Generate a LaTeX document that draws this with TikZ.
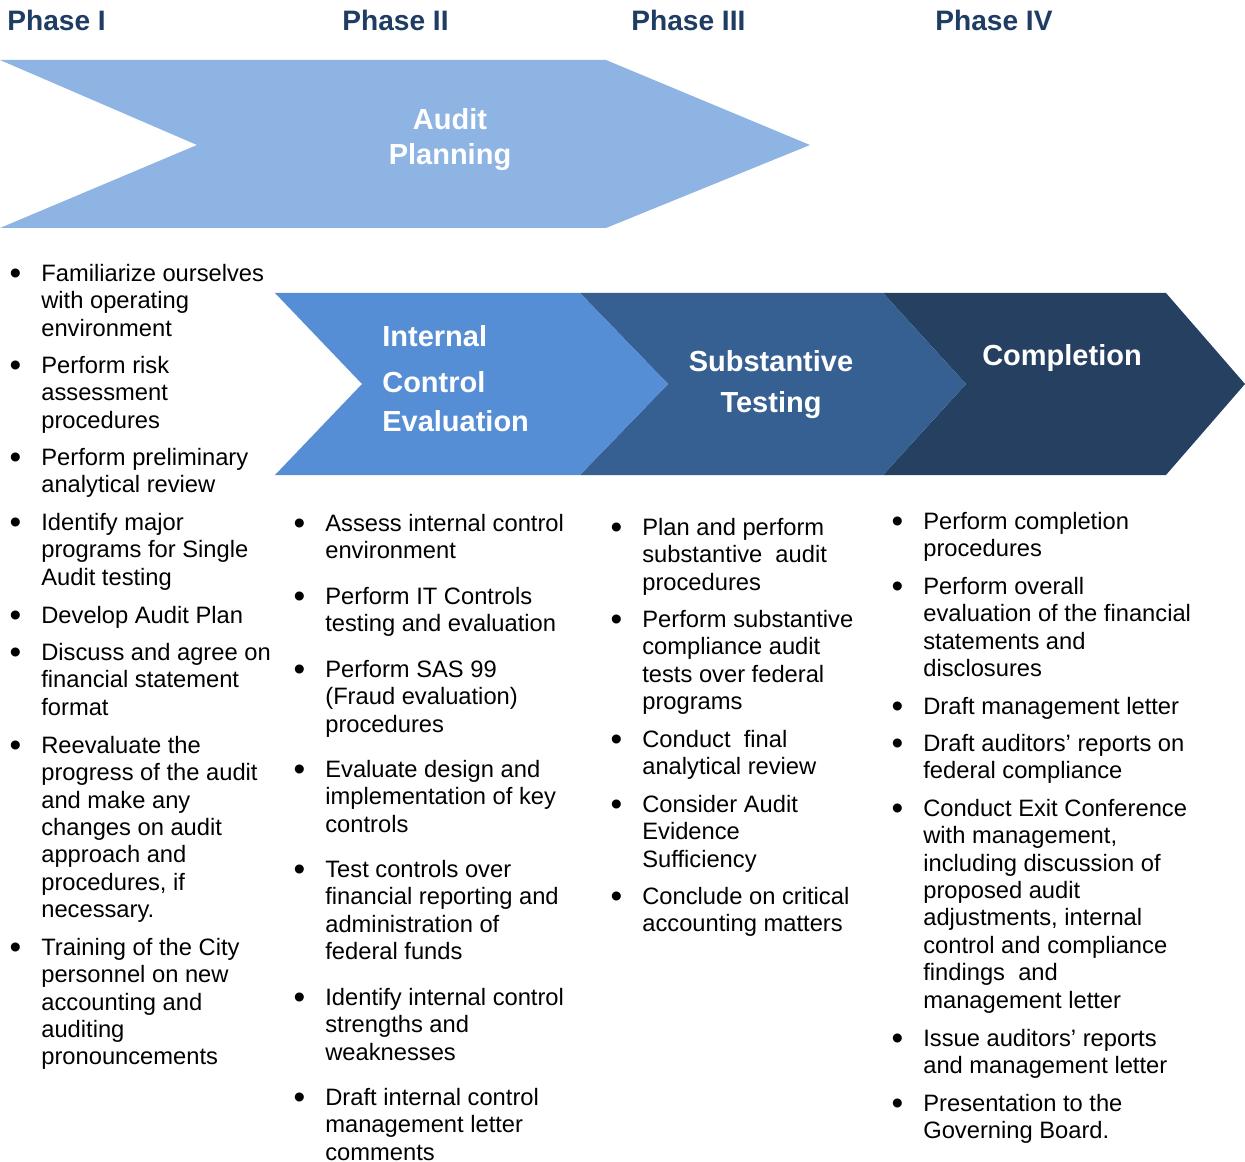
\documentclass[tikz,border=0pt]{standalone}
\usepackage{fontspec}
\setmainfont{Liberation Sans}
\usepackage{xcolor}
\usepackage{graphicx}
\usepackage{tikz}
\usetikzlibrary{positioning}

\definecolor{hdrblue}{HTML}{1F3D63}
\definecolor{planblue}{HTML}{8EB4E3}
\definecolor{iceblue}{HTML}{558ED5}
\definecolor{subblue}{HTML}{376092}
\definecolor{compblue}{HTML}{254061}

% bullet left of the first line, strut fixes the top of the node
\newcommand{\bul}{\rule{0pt}{10.5pt}\llap{\raisebox{-2pt}{\scalebox{1.4}{\textbullet}}\hspace{11.4pt}}}

\begin{document}
\begin{tikzpicture}[
  x=0.02cm, y=-0.02cm,
  phase/.style={anchor=base west, inner sep=0pt, text=hdrblue,
               font=\fontsize{16}{19}\selectfont\bfseries},
  chevtext/.style={inner sep=0pt, text=white,
               font=\fontsize{16.5}{19.8}\selectfont\bfseries},
  item/.style={anchor=north west, align=left, inner sep=0pt,
               yshift=10.5pt, font=\fontsize{13.5}{15.6}\selectfont}
]
\useasboundingbox (0,0) rectangle (1245,1162);

% phase headers
\node[phase] (ph1) at (7,31) {Phase I};
\node[phase] (ph2) at (342,31) {Phase II};
\node[phase] (ph3) at (631,31) {Phase III};
\node[phase] (ph4) at (935,31) {Phase IV};

% chevrons
\fill[planblue] (0,60) -- (606,60) -- (810,145) -- (606,228) -- (0,228) -- (197,145) -- cycle;
\fill[compblue] (883,293) -- (1166,293) -- (1245,384) -- (1166,475) -- (883,475) -- (966,384) -- cycle;
\fill[subblue] (580,293) -- (883,293) -- (966,384) -- (883,475) -- (580,475) -- (668,384) -- cycle;
\fill[iceblue] (275,293) -- (580,293) -- (668,384) -- (580,475) -- (275,475) -- (362,384) -- cycle;

\node[chevtext, anchor=base] (plan1) at (450,130) {Audit};
\node[chevtext, anchor=base] (plan2) at (450,165) {Planning};
\node[chevtext, anchor=base west] (ice1) at (382,347) {Internal};
\node[chevtext, anchor=base west] (ice2) at (382,393) {Control};
\node[chevtext, anchor=base west] (ice3) at (382,432) {Evaluation};
\node[chevtext, anchor=base] (sub1) at (771,372) {Substantive};
\node[chevtext, anchor=base] (sub2) at (771,413) {Testing};
\node[chevtext, anchor=base] (comp) at (1062,366) {Completion};

% Phase I
\node[item] (p1a) at (41,281) {\bul Familiarize ourselves\\with operating\\environment};
\node[item] (p1b) at (41,373) {\bul Perform risk\\assessment\\procedures};
\node[item] (p1c) at (41,465) {\bul Perform preliminary\\analytical review};
\node[item] (p1d) at (41,530) {\bul Identify major\\programs for Single\\Audit testing};
\node[item] (p1e) at (41,623) {\bul Develop Audit Plan};
\node[item] (p1f) at (41,660) {\bul Discuss and agree on\\financial statement\\format};
\node[item] (p1g) at (41,753) {\bul Reevaluate the\\progress of the audit\\and make any\\changes on audit\\approach and\\procedures, if\\necessary.};
\node[item] (p1h) at (41,955) {\bul Training of the City\\personnel on new\\accounting and\\auditing\\pronouncements};

% Phase II
\node[item] (p2a) at (325,531) {\bul Assess internal control\\environment};
\node[item] (p2b) at (325,604) {\bul Perform IT Controls\\testing and evaluation};
\node[item] (p2c) at (325,677) {\bul Perform SAS 99\\(Fraud evaluation)\\procedures};
\node[item] (p2d) at (325,777) {\bul Evaluate design and\\implementation of key\\controls};
\node[item] (p2e) at (325,877) {\bul Test controls over\\financial reporting and\\administration of\\federal funds};
\node[item] (p2f) at (325,1005) {\bul Identify internal control\\strengths and\\weaknesses};
\node[item] (p2g) at (325,1105) {\bul Draft internal control\\management letter\\comments};

% Phase III
\node[item] (p3a) at (642,535) {\bul Plan and perform\\substantive\ \ audit\\procedures};
\node[item] (p3b) at (642,627) {\bul Perform substantive\\compliance audit\\tests over federal\\programs};
\node[item] (p3c) at (642,747) {\bul Conduct\ \ final\\analytical review};
\node[item] (p3d) at (642,812) {\bul Consider Audit\\Evidence\\Sufficiency};
\node[item] (p3e) at (642,904) {\bul Conclude on critical\\accounting matters};

% Phase IV
\node[item] (p4a) at (923,529) {\bul Perform completion\\procedures};
\node[item] (p4b) at (923,594) {\bul Perform overall\\evaluation of the financial\\statements and\\disclosures};
\node[item] (p4c) at (923,714) {\bul Draft management letter};
\node[item] (p4d) at (923,751) {\bul Draft auditors’ reports on\\federal compliance};
\node[item] (p4e) at (923,816) {\bul Conduct Exit Conference\\with management,\\including discussion of\\proposed audit\\adjustments, internal\\control and compliance\\findings\ \ and\\management letter};
\node[item] (p4f) at (923,1046) {\bul Issue auditors’ reports\\and management letter};
\node[item] (p4g) at (923,1111) {\bul Presentation to the\\Governing Board.};

\end{tikzpicture}
\end{document}
